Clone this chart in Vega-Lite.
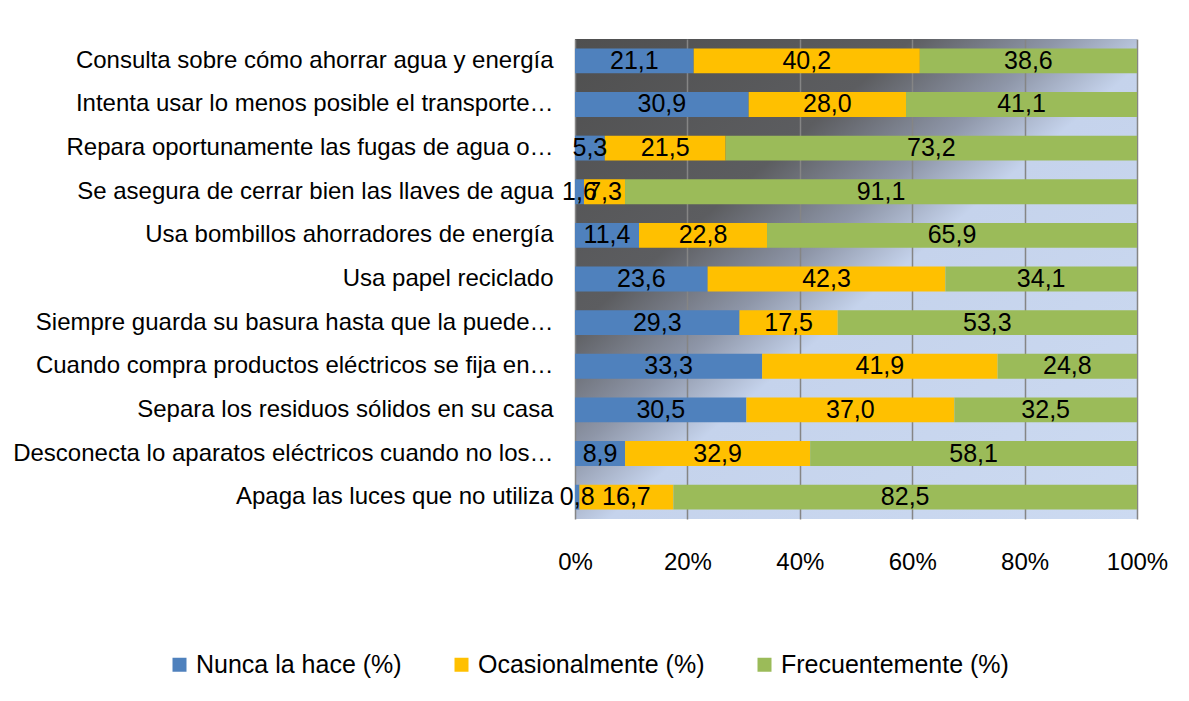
{
  "$schema": "https://vega.github.io/schema/vega-lite/v6.json",
  "autosize": {"type": "none"},
  "width": 562,
  "height": 480,
  "padding": {"left": 575, "top": 39, "right": 52, "bottom": 182},
  "background": "white",
  "config": {
    "font": "Liberation Sans",
    "locale": {"number": {"decimal": ",", "thousands": ".", "grouping": [3], "currency": ["", " €"]}},
    "view": {"stroke": null}
  },
  "view": {
    "fill": {
      "gradient": "linear", "x1": 0, "y1": 0, "x2": 1, "y2": 1,
      "stops": [
        {"offset": 0, "color": "#4f4f4f"},
        {"offset": 0.3, "color": "#5c5d60"},
        {"offset": 0.43, "color": "#8e96a8"},
        {"offset": 0.53, "color": "#c5d3ec"},
        {"offset": 1, "color": "#ccdaf1"}
      ]
    },
    "stroke": null
  },
  "data": {
    "values": [
      {"item": "Consulta sobre cómo ahorrar agua y energía", "serie": "Nunca la hace (%)", "k": 1, "v": 21.1},
      {"item": "Consulta sobre cómo ahorrar agua y energía", "serie": "Ocasionalmente (%)", "k": 2, "v": 40.2},
      {"item": "Consulta sobre cómo ahorrar agua y energía", "serie": "Frecuentemente (%)", "k": 3, "v": 38.6},
      {"item": "Intenta usar lo menos posible el transporte…", "serie": "Nunca la hace (%)", "k": 1, "v": 30.9},
      {"item": "Intenta usar lo menos posible el transporte…", "serie": "Ocasionalmente (%)", "k": 2, "v": 28.0},
      {"item": "Intenta usar lo menos posible el transporte…", "serie": "Frecuentemente (%)", "k": 3, "v": 41.1},
      {"item": "Repara oportunamente las fugas de agua o…", "serie": "Nunca la hace (%)", "k": 1, "v": 5.3},
      {"item": "Repara oportunamente las fugas de agua o…", "serie": "Ocasionalmente (%)", "k": 2, "v": 21.5},
      {"item": "Repara oportunamente las fugas de agua o…", "serie": "Frecuentemente (%)", "k": 3, "v": 73.2},
      {"item": "Se asegura de cerrar bien las llaves de agua", "serie": "Nunca la hace (%)", "k": 1, "v": 1.6},
      {"item": "Se asegura de cerrar bien las llaves de agua", "serie": "Ocasionalmente (%)", "k": 2, "v": 7.3},
      {"item": "Se asegura de cerrar bien las llaves de agua", "serie": "Frecuentemente (%)", "k": 3, "v": 91.1},
      {"item": "Usa bombillos ahorradores de energía", "serie": "Nunca la hace (%)", "k": 1, "v": 11.4},
      {"item": "Usa bombillos ahorradores de energía", "serie": "Ocasionalmente (%)", "k": 2, "v": 22.8},
      {"item": "Usa bombillos ahorradores de energía", "serie": "Frecuentemente (%)", "k": 3, "v": 65.9},
      {"item": "Usa papel reciclado", "serie": "Nunca la hace (%)", "k": 1, "v": 23.6},
      {"item": "Usa papel reciclado", "serie": "Ocasionalmente (%)", "k": 2, "v": 42.3},
      {"item": "Usa papel reciclado", "serie": "Frecuentemente (%)", "k": 3, "v": 34.1},
      {"item": "Siempre guarda su basura hasta que la puede…", "serie": "Nunca la hace (%)", "k": 1, "v": 29.3},
      {"item": "Siempre guarda su basura hasta que la puede…", "serie": "Ocasionalmente (%)", "k": 2, "v": 17.5},
      {"item": "Siempre guarda su basura hasta que la puede…", "serie": "Frecuentemente (%)", "k": 3, "v": 53.3},
      {"item": "Cuando compra productos eléctricos se fija en…", "serie": "Nunca la hace (%)", "k": 1, "v": 33.3},
      {"item": "Cuando compra productos eléctricos se fija en…", "serie": "Ocasionalmente (%)", "k": 2, "v": 41.9},
      {"item": "Cuando compra productos eléctricos se fija en…", "serie": "Frecuentemente (%)", "k": 3, "v": 24.8},
      {"item": "Separa los residuos sólidos en su casa", "serie": "Nunca la hace (%)", "k": 1, "v": 30.5},
      {"item": "Separa los residuos sólidos en su casa", "serie": "Ocasionalmente (%)", "k": 2, "v": 37.0},
      {"item": "Separa los residuos sólidos en su casa", "serie": "Frecuentemente (%)", "k": 3, "v": 32.5},
      {"item": "Desconecta lo aparatos eléctricos cuando no los…", "serie": "Nunca la hace (%)", "k": 1, "v": 8.9},
      {"item": "Desconecta lo aparatos eléctricos cuando no los…", "serie": "Ocasionalmente (%)", "k": 2, "v": 32.9},
      {"item": "Desconecta lo aparatos eléctricos cuando no los…", "serie": "Frecuentemente (%)", "k": 3, "v": 58.1},
      {"item": "Apaga las luces que no utiliza", "serie": "Nunca la hace (%)", "k": 1, "v": 0.8},
      {"item": "Apaga las luces que no utiliza", "serie": "Ocasionalmente (%)", "k": 2, "v": 16.7},
      {"item": "Apaga las luces que no utiliza", "serie": "Frecuentemente (%)", "k": 3, "v": 82.5}
    ]
  },
  "layer": [
    {
      "mark": {"type": "bar"},
      "encoding": {
        "y": {
          "field": "item", "type": "nominal", "sort": null,
          "scale": {"paddingInner": 0.43, "paddingOuter": 0.215},
          "axis": {"title": null, "ticks": false, "domain": false, "labelFontSize": 24, "labelColor": "#000000", "labelPadding": 22, "labelLimit": 600}
        },
        "x": {
          "field": "v", "type": "quantitative", "stack": "normalize",
          "scale": {"domain": [0, 1], "nice": false, "zero": true},
          "axis": {"title": null, "format": ".0%", "values": [0, 0.2, 0.4, 0.6, 0.8, 1], "ticks": false, "domain": false, "grid": true, "gridColor": "#858585", "gridWidth": 1.5, "labelFontSize": 24, "labelColor": "#000000", "labelPadding": 31, "labelFlush": false}
        },
        "order": {"field": "k", "type": "quantitative", "sort": "ascending"},
        "color": {
          "field": "serie", "type": "nominal",
          "scale": {"domain": ["Nunca la hace (%)", "Ocasionalmente (%)", "Frecuentemente (%)"], "range": ["#4f81bd", "#ffc000", "#9bbb59"]},
          "legend": {
            "title": null, "orient": "none", "direction": "horizontal",
            "legendX": -408, "legendY": 613,
            "symbolType": "square", "symbolSize": 196, "symbolStrokeWidth": 0,
            "labelFontSize": 25, "labelColor": "#000000", "labelOffset": 4, "columnPadding": 47, "labelLimit": 400
          }
        }
      }
    },
    {
      "transform": [
        {"stack": "v", "groupby": ["item"], "sort": [{"field": "k", "order": "ascending"}], "offset": "normalize", "as": ["x0", "x1"]},
        {"fold": ["x0", "x1"], "as": ["edge", "pos"]},
        {"aggregate": [{"op": "mean", "field": "pos", "as": "mid"}], "groupby": ["item", "serie", "v"]}
      ],
      "mark": {"type": "text", "fontSize": 25, "color": "#000000"},
      "encoding": {
        "y": {"field": "item", "type": "nominal", "sort": null},
        "x": {"field": "mid", "type": "quantitative"},
        "text": {"field": "v", "type": "quantitative", "format": ".1f"}
      }
    }
  ]
}
